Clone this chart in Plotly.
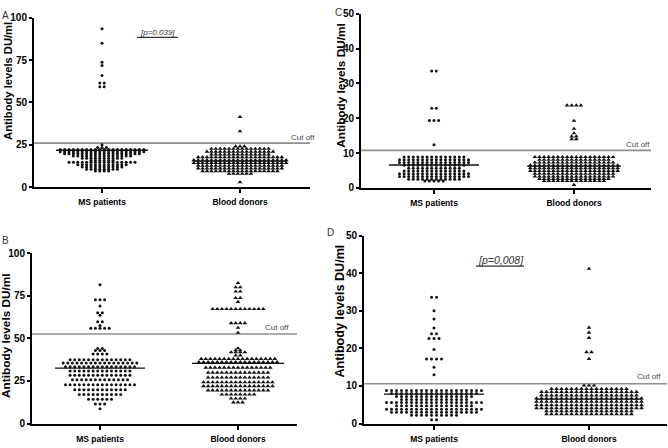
import plotly.graph_objects as go

W, H = 668, 448
FONT = "Liberation Sans, Arial, sans-serif"

CATEGORIES = ["MS patients", "Blood donors"]
Y_TITLE = "Antibody levels DU/ml"
PANEL_LETTERS = ["A", "B", "C", "D"]

# ---- data: rows of the dot plots as (value DU/ml, number of dots in the row) ----
A_MS = [(93.5, 1), (84.9, 1), (73.7, 1), (71.7, 1), (65.9, 1), (61.5, 2), (59.2, 2), (25.0, 1),
        (23.3, 3), (22.2, 20), (20.9, 20), (19.6, 18), (18.3, 14), (17.0, 10),
        (15.7, 6), (14.6, 16), (13.2, 12), (11.8, 10), (10.5, 8), (9.4, 4)]
A_BD = [(41.4, 1), (32.9, 1), (24.0, 3), (22.6, 14), (20.9, 16), (19.3, 14), (17.6, 20),
        (15.9, 22), (14.2, 22), (12.6, 20), (11.0, 20), (9.4, 18), (7.8, 6), (2.9, 1)]
B_MS = [(81.5, 1), (72.6, 3), (69.0, 1), (65.0, 2), (63.6, 1), (59.8, 2), (57.6, 1), (56.0, 5),
        (44.0, 2), (42.8, 3), (40.8, 4), (37.5, 14), (35.6, 17), (33.3, 16), (30.9, 14),
        (28.4, 14), (25.7, 13), (22.7, 16), (19.8, 12), (17.1, 10), (14.3, 6), (11.4, 3), (8.6, 1)]
B_BD = [(82.5, 1), (80.0, 2), (77.5, 2), (73.7, 2), (71.4, 1), (67.2, 12), (58.9, 4), (56.2, 1),
        (53.3, 1), (44.2, 1), (43.0, 2), (41.8, 4), (40.0, 2), (37.9, 17), (36.0, 18), (32.8, 15),
        (29.9, 14), (27.0, 14), (24.2, 16), (21.9, 16), (19.4, 14), (17.0, 8), (14.7, 4), (12.4, 3)]
C_MS = [(33.6, 2), (22.9, 2), (19.4, 3), (12.4, 1),
        (8.9, 14), (8.1, 16), (7.3, 16), (6.5, 14), (5.7, 12), (4.9, 14), (4.1, 16), (3.3, 16),
        (2.5, 12), (2.0, 5)]
C_BD = [(23.7, 4), (19.3, 1), (17.0, 1), (15.7, 1), (14.8, 2), (14.0, 2),
        (8.9, 18), (8.1, 16), (7.3, 18), (6.5, 20), (5.7, 20), (4.9, 20), (4.1, 18), (3.3, 18),
        (2.6, 16), (2.0, 14), (0.9, 1)]
D_MS = [(33.6, 2), (30.0, 1), (27.8, 1), (25.4, 1), (23.9, 2), (22.6, 3), (19.7, 1), (17.2, 4),
        (15.0, 1), (13.0, 1),
        (8.8, 20), (8.0, 18), (7.2, 16), (6.4, 14), (5.6, 20), (4.7, 16), (3.8, 20), (3.0, 18),
        (2.2, 10), (1.0, 2)]
D_BD = [(41.2, 1), (25.5, 1), (24.2, 1), (22.8, 1), (19.0, 2), (17.2, 1),
        (10.1, 3), (9.2, 16), (8.4, 20), (7.5, 20), (6.7, 22), (5.8, 22), (4.9, 22), (4.1, 22),
        (3.3, 18), (2.5, 18)]

A_MEANS = [21.7, 15.3]
B_MEANS = [32.5, 35.3]
C_MEANS = [6.6, 6.3]
D_MEANS = [7.8, 6.5]

CUTOFFS = [25.9, 52.6, 10.8, 10.6]
Y_MAX = [100, 100, 50, 50]
Y_TICKS = [[0, 25, 50, 75, 100], [0, 25, 50, 75, 100],
           [0, 10, 20, 30, 40, 50], [0, 10, 20, 30, 40, 50]]
P_TEXTS = ["[p=0.039]", "[p=0,008]"]

# ---- layout geometry (pixels) ----
PANELS = [
    dict(rows=[A_MS, A_BD], means=A_MEANS, x0=34, x1=310, yb=186, yt=12, c=[102, 240],
         sp=4.4, hw=[46, 47], title=(8, 77, 11.2), letter=(5, 10), cut_txt=(303, 6)),
    dict(rows=[B_MS, B_BD], means=B_MEANS, x0=32, x1=297, yb=429, yt=254, c=[100, 238],
         sp=4.6, hw=[45, 46], title=(6, 339, 11.8), letter=(5, 241), cut_txt=(277, 6)),
    dict(rows=[C_MS, C_BD], means=C_MEANS, x0=361, x1=651, yb=187, yt=8, c=[434, 574],
         sp=4.6, hw=[45, 47], title=(341, 82, 11.8), letter=(338, 7), cut_txt=(638, 6)),
    dict(rows=[D_MS, D_BD], means=D_MEANS, x0=364, x1=667, yb=429, yt=236, c=[434, 589],
         sp=5.0, hw=[50, 53], title=(340, 314, 12.6), letter=(330, 233), cut_txt=(649, 7)),
]
SYMBOLS = ["circle", "triangle-up"]
SIZES = [3.0, 4.2]


def px(x):
    return x / W


def py(y):
    return 1 - y / H


fig = go.Figure()
annotations = []
shapes = []

for i, p in enumerate(PANELS):
    s = "" if i == 0 else str(i + 1)
    ppu = p["c"][1] - p["c"][0]
    xr = [(p["x0"] - p["c"][0]) / ppu, (p["x1"] - p["c"][0]) / ppu]

    # cut-off line
    fig.add_trace(go.Scatter(x=xr, y=[CUTOFFS[i]] * 2, mode="lines",
                             line=dict(color="#8f8f8f", width=1.6), xaxis="x" + s, yaxis="y" + s,
                             hoverinfo="skip", showlegend=False, cliponaxis=False))

    for g in range(2):
        xs, ys = [], []
        for v, n in p["rows"][g]:
            for k in range(n):
                xs.append(g + (k - (n - 1) / 2) * p["sp"] / ppu)
                ys.append(v)
        fig.add_trace(go.Scatter(x=xs, y=ys, mode="markers",
                                 marker=dict(symbol=SYMBOLS[g], size=SIZES[g], color="#111111",
                                             line=dict(width=0)),
                                 xaxis="x" + s, yaxis="y" + s, showlegend=False, cliponaxis=False))
        hw = p["hw"][g] / ppu
        fig.add_trace(go.Scatter(x=[g - hw, g + hw], y=[p["means"][g]] * 2, mode="lines",
                                 line=dict(color="#111111", width=1.3),
                                 xaxis="x" + s, yaxis="y" + s, showlegend=False, cliponaxis=False))

    fig.layout["xaxis" + s] = dict(
        domain=[px(p["x0"]), px(p["x1"])], range=xr, anchor="y" + s,
        tickvals=[0, 1], ticktext=CATEGORIES, showline=True, linecolor="black", linewidth=2,
        ticks="outside", ticklen=4, tickwidth=1.5, tickcolor="black", showgrid=False,
        zeroline=False, ticklabelstandoff=2,
        tickfont=dict(family=FONT, size=8.5, color="black", weight="bold"))
    fig.layout["yaxis" + s] = dict(
        domain=[py(p["yb"]), py(p["yt"])], range=[0, Y_MAX[i]], anchor="x" + s,
        tickvals=Y_TICKS[i], showline=True, linecolor="black", linewidth=2,
        ticks="outside", ticklen=3, tickwidth=1.5, tickcolor="black", showgrid=False,
        zeroline=False, tickfont=dict(family=FONT, size=10, color="black", weight="bold"))

    tx, ty, tsz = p["title"]
    annotations.append(dict(text=Y_TITLE, x=px(tx), y=py(ty), xref="paper", yref="paper",
                            textangle=-90, showarrow=False, xanchor="center", yanchor="middle",
                            font=dict(family=FONT, size=tsz, color="black", weight="bold")))
    lx, ly = p["letter"]
    annotations.append(dict(text=PANEL_LETTERS[i], x=px(lx), y=py(ly), xref="paper",
                            yref="paper", showarrow=False, xanchor="center", yanchor="middle",
                            font=dict(family=FONT, size=10, color="#333333")))
    cx, cdy = p["cut_txt"]
    annotations.append(dict(text="Cut off", x=px(cx), y=CUTOFFS[i], xref="paper",
                            yref="y" + s, yshift=cdy, showarrow=False, xanchor="center",
                            yanchor="middle", font=dict(family=FONT, size=8, color="#4a4a4a")))

# p-values
annotations.append(dict(text="<i>" + P_TEXTS[0] + "</i>", x=px(157), y=py(27), xref="paper",
                        yref="paper", showarrow=False, xanchor="center", yanchor="middle",
                        font=dict(family=FONT, size=8, color="#333333")))
shapes.append(dict(type="line", xref="paper", yref="paper", x0=px(137), x1=px(178),
                   y0=py(32.3), y1=py(32.3), line=dict(color="#333333", width=1.2)))
annotations.append(dict(text="<i>" + P_TEXTS[1] + "</i>", x=px(501), y=py(261), xref="paper",
                        yref="paper", showarrow=False, xanchor="center", yanchor="middle",
                        font=dict(family=FONT, size=10.5, color="#333333")))
shapes.append(dict(type="line", xref="paper", yref="paper", x0=px(476), x1=px(524),
                   y0=py(267.3), y1=py(267.3), line=dict(color="#333333", width=1.2)))

fig.update_layout(width=W, height=H, margin=dict(l=0, r=0, t=0, b=0),
                  paper_bgcolor="white", plot_bgcolor="white",
                  annotations=annotations, shapes=shapes, showlegend=False)

fig.write_html("out.html")
